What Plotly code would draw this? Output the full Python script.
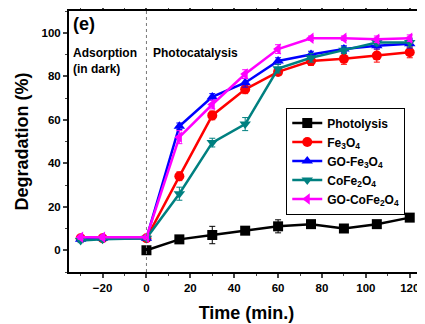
import plotly.graph_objects as go

t_all = [-30, -20, 0, 15, 30, 45, 60, 75, 90, 105, 120]
t_photo = [0, 15, 30, 45, 60, 75, 90, 105, 120]
photolysis = [0, 5, 7, 9, 11, 12, 10, 12, 15]
photolysis_err = [0.5, 1, 4, 1, 3, 1.5, 1, 1.5, 1]
fe3o4 = [5.5, 5.5, 5.5, 34, 62, 74, 82, 87, 88, 89.5, 91]
fe3o4_err = [1, 1, 1, 2, 2, 2, 1.5, 2, 2.5, 3, 2.5]
go_fe3o4 = [5, 5.5, 5.5, 57, 70.5, 77, 87, 90, 92.5, 94, 95]
go_fe3o4_err = [1, 1, 1, 1.5, 1.5, 2, 1.5, 1.5, 1.5, 1.5, 2]
cofe2o4 = [4.5, 5, 5.5, 26, 49.5, 58, 83.5, 88.5, 92, 95.5, 95.5]
cofe2o4_err = [1, 1, 1, 3, 2, 3, 2, 2, 1.5, 1.5, 2]
go_cofe2o4 = [6, 6, 6, 52, 67, 81, 92.5, 97.5, 97.5, 97, 97.5]
go_cofe2o4_err = [1, 1, 1, 3, 2, 2, 2, 1, 1, 1.5, 1.5]

series = [
    ("Photolysis", t_photo, photolysis, photolysis_err, "#000000", "square"),
    ("Fe<sub>3</sub>O<sub>4</sub>", t_all, fe3o4, fe3o4_err, "#ff0000", "circle"),
    ("GO-Fe<sub>3</sub>O<sub>4</sub>", t_all, go_fe3o4, go_fe3o4_err, "#0000ff", "triangle-up"),
    ("CoFe<sub>2</sub>O<sub>4</sub>", t_all, cofe2o4, cofe2o4_err, "#008080", "triangle-down"),
    ("GO-CoFe<sub>2</sub>O<sub>4</sub>", t_all, go_cofe2o4, go_cofe2o4_err, "#ff00ff", "triangle-left"),
]

fig = go.Figure()
for name, x, y, e, c, sym in series:
    fig.add_trace(go.Scatter(
        x=x, y=y, name=name, mode="lines+markers",
        line=dict(color=c, width=2.5),
        marker=dict(symbol=sym, size=10, color=c),
        error_y=dict(type="data", array=e, color=c, thickness=1, width=3),
    ))

fig.add_shape(type="line", x0=0, x1=0, y0=0, y1=1, xref="x", yref="paper",
              line=dict(color="#777777", width=1, dash="dot"))

font_b = "Liberation Sans, Arial, sans-serif"
fig.add_annotation(x=-34.5, y=104, xref="x", yref="y", text="<b>(e)</b>", showarrow=False,
                   xanchor="left", yanchor="middle", font=dict(size=18, color="black", family=font_b))
fig.add_annotation(x=-34.5, y=95, xref="x", yref="y", text="<b>Adsorption<br>(in dark)</b>", showarrow=False,
                   xanchor="left", yanchor="top", align="left", font=dict(size=12, color="black", family=font_b))
fig.add_annotation(x=2, y=95, xref="x", yref="y", text="<b>Photocatalysis</b>", showarrow=False,
                   xanchor="left", yanchor="top", align="left", font=dict(size=12, color="black", family=font_b))

# page body adds an 8px margin, so the figure is sized to fit the remaining window
fig.update_layout(
    width=417, height=316,
    margin=dict(l=61, r=1, t=3, b=52),
    paper_bgcolor="white", plot_bgcolor="white",
    font=dict(family=font_b, color="black", size=11),
    showlegend=True,
    legend=dict(x=0.612, y=0.63, xanchor="left", yanchor="top",
                bordercolor="black", borderwidth=1, bgcolor="white",
                font=dict(size=12, family=font_b, weight="bold"),
                tracegroupgap=0, itemwidth=30),
    xaxis=dict(range=[-35.3, 126.5], tickvals=[-20, 0, 20, 40, 60, 80, 100, 120],
               automargin=False,
               showgrid=False, zeroline=False, showline=True, linecolor="black", linewidth=2,
               mirror="ticks", ticks="outside", ticklen=4, tickwidth=1.5,
               minor=dict(tickvals=[-30, -10, 10, 30, 50, 70, 90, 110], ticks="outside", ticklen=2, tickwidth=1),
               tickfont=dict(size=11.5, weight="bold"),
               title=dict(text="<b>Time (min.)</b>", font=dict(size=18), standoff=14)),
    yaxis=dict(range=[-10, 110], tickvals=[0, 20, 40, 60, 80, 100],
               automargin=False,
               showgrid=False, zeroline=False, showline=True, linecolor="black", linewidth=2,
               mirror="ticks", ticks="outside", ticklen=4, tickwidth=1.5,
               minor=dict(tickvals=[-10, 10, 30, 50, 70, 90, 110], ticks="outside", ticklen=2, tickwidth=1),
               tickfont=dict(size=11.5, weight="bold"),
               title=dict(text="<b>Degradation (%)</b>", font=dict(size=18), standoff=8)),
)

fig.write_html("out.html")
